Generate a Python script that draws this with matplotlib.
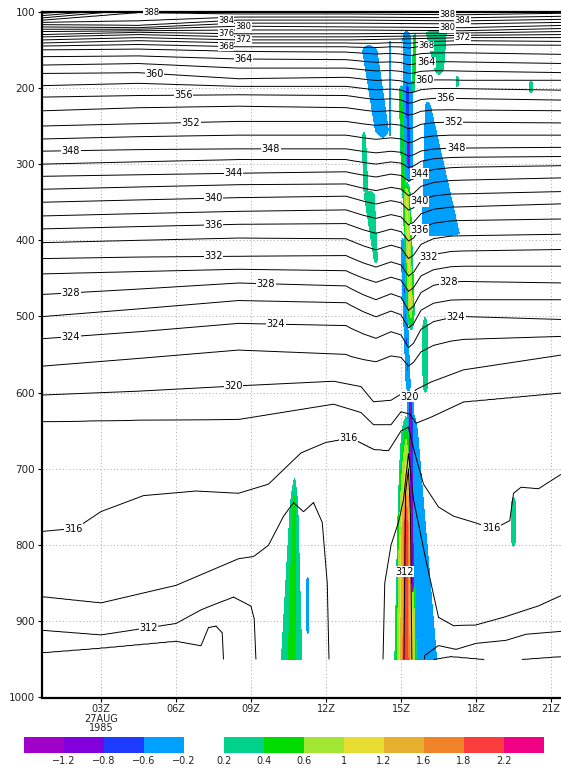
import numpy as np
import matplotlib
matplotlib.use("Agg")
import matplotlib.pyplot as plt
from matplotlib.colors import ListedColormap, BoundaryNorm

# ---------------------------------------------------------------- data
# time axis: hours UTC (27 Aug 1985); pressure axis: hPa
time_range = (0.64, 21.4)
data_bottom = 950

x_ticks = [3, 6, 9, 12, 15, 18, 21]
x_tick_labels = ["03Z\n27AUG\n1985", "06Z", "09Z", "12Z", "15Z", "18Z", "21Z"]
y_ticks = [100, 200, 300, 400, 500, 600, 700, 800, 900, 1000]
y_tick_labels = ["100", "200", "300", "400", "500", "600", "700", "800", "900", "1000"]

# theta-e isolines (K), every 2 K
theta_levels = list(range(308, 398, 2))

# pressure (hPa) of the upper isolines at anchor times
anchor_times = [0.7, 4.5, 8.5, 13.0, 17.5, 21.5]
isoline_p = {
    322: [565, 555, 544, 550, 530, 526],
    324: [529, 520, 509, 512, 500, 504],
    326: [500, 490, 479, 482, 478, 478],
    328: [471, 464, 456, 460, 454, 456],
    330: [444, 441, 438, 440, 434, 434],
    332: [424, 422, 421, 420, 414, 412],
    334: [403, 400, 397, 398, 394, 392],
    336: [385, 382, 379, 378, 374, 372],
    338: [368, 365, 362, 360, 356, 352],
    340: [350, 347, 344, 342, 339, 336],
    342: [333, 330, 327, 326, 321, 318],
    344: [316, 314, 312, 310, 304, 302],
    346: [300, 297, 294, 294, 291, 290],
    348: [283, 281, 280, 280, 279, 278],
    350: [267, 264, 262, 262, 262, 262],
    352: [250, 247, 244, 244, 245, 246],
    354: [230, 226, 224, 226, 229, 230],
    356: [212, 210, 209, 210, 214, 216],
    358: [197, 194, 198, 198, 201, 203],
    360: [181, 180, 188, 186, 190, 190],
    362: [170, 168, 174, 174, 178, 180],
    364: [159, 158, 162, 163, 166, 168],
    366: [150, 149, 152, 153, 154, 156],
    368: [145, 143, 146, 146, 143, 144],
    370: [141, 138, 141, 141, 138, 139],
    372: [137, 134, 137, 137, 134, 134],
    374: [133, 130, 133, 133, 131, 130],
    376: [130, 127, 129, 129, 128, 126],
    378: [126, 125, 124, 124, 125, 122],
    380: [123, 123, 119, 120, 121, 118],
    382: [120, 121, 115, 115, 116, 114],
    384: [117, 118, 111, 111, 112, 110],
    386: [114, 112, 107, 107, 108, 106],
    388: [111, 101, 103, 103, 104, 102],
    390: [108, 97, 99, 99, 100, 98],
    392: [105, 95, 96, 96, 97, 95],
    394: [102, 93, 93, 93, 94, 92],
    396: [99, 91, 90, 90, 91, 89],
}
# downward dip of the isolines around the convective column
dip_times = [12.8, 13.5, 14.0, 14.6, 15.0, 15.3, 15.5, 15.8, 16.3, 17.0]
dip_shape = [0.0, 0.35, 0.55, 0.35, 0.5, 1.0, 0.85, 0.35, 0.1, 0.0]
dip_depth = {322: 25, 324: 35, 326: 35, 328: 35, 330: 30, 332: 30, 334: 28,
             336: 25, 338: 22, 340: 20, 342: 18, 344: 15, 346: 12, 348: 10,
             350: 10, 352: 9, 354: 8, 356: 8, 358: 7, 360: 6, 362: 5,
             364: 5, 366: 4, 368: 3, 370: 2}

# lower isolines: (times, pressures); 1000+ means below the data
low_isolines = {
    320: ([0.7, 4.5, 8.5, 12.3, 13.4, 13.9, 14.6, 15.0, 15.35, 15.6, 16.2, 17.5, 21.5],
          [603, 598, 591, 585, 592, 612, 610, 602, 606, 596, 586, 570, 550]),
    318: ([0.7, 4.5, 8.5, 12.3, 13.4, 13.9, 14.6, 15.0, 15.35, 15.6, 16.2, 17.5, 21.5],
          [638, 636, 635, 615, 626, 642, 642, 625, 628, 640, 632, 612, 600]),
    316: ([0.7, 2.0, 3.0, 4.7, 6.8, 8.5, 9.7, 11.0, 12.0, 13.0, 13.9, 14.5, 15.0,
           15.3, 15.5, 15.9, 16.5, 17.1, 18.0, 18.7, 19.35, 19.5, 19.8, 20.5, 21.5],
          [782, 778, 756, 735, 729, 732, 720, 679, 665, 659, 674, 676, 650,
           645, 673, 720, 750, 762, 771, 779, 768, 732, 724, 726, 705]),
    314: ([0.7, 3.0, 6.0, 8.5, 9.1, 9.7, 10.3, 10.7, 11.1, 11.5, 11.85, 12.05, 12.15,
           14.25, 14.35, 14.6, 14.9, 15.1, 15.3, 15.5, 16.0, 16.5, 17.1, 18.0, 19.1,
           20.5, 21.5],
          [868, 876, 853, 818, 815, 800, 762, 744, 756, 744, 770, 850, 1000,
           1000, 850, 800, 770, 740, 680, 740, 820, 895, 906, 905, 895,
           880, 865]),
    312: ([0.7, 3.0, 6.0, 7.0, 8.3, 9.0, 9.13, 9.27, 15.1, 15.18, 15.3, 15.38, 15.45,
           15.75, 15.95, 16.5, 17.2, 18.0, 19.2, 20.0, 21.5],
          [912, 918, 903, 885, 868, 880, 897, 1010, 1010, 730, 700, 760, 1010,
           1010, 945, 932, 937, 929, 925, 917, 913]),
    310: ([0.7, 3.0, 6.0, 7.0, 7.3, 7.6, 7.85, 8.0, 16.1, 16.3, 17.0, 19.0, 21.5],
          [941, 935, 926, 932, 908, 906, 915, 1020, 1020, 950, 946, 952, 946]),
    308: ([0.7, 21.5], [1030, 1030]),
}

# contour labels (level, time)
label_levels = [388, 388, 384, 384, 380, 380, 376, 372, 372, 368, 368, 364, 364,
                360, 360, 356, 356, 352, 352, 348, 348, 348, 344, 344, 340, 340,
                336, 336, 332, 332, 328, 328, 328, 324, 324, 324, 320, 320,
                316, 316, 316, 312, 312]
label_times = [5.0, 16.85, 8.0, 17.45, 8.7, 16.85, 8.0, 8.7, 17.45, 8.0, 16.0, 8.7, 16.0,
               5.15, 15.95, 6.3, 16.8, 6.6, 17.1, 1.8, 9.8, 17.2, 8.3, 15.75, 7.5, 15.75,
               7.5, 15.75, 7.5, 16.1, 1.8, 9.6, 16.9, 1.8, 10.0, 17.2, 8.3, 15.36,
               1.9, 12.9, 18.6, 4.9, 15.15]

# shaded field: cells of the heating field
# columns: time at top, time at bottom, p top, p bottom, half-width top, half-width bottom,
#          ramp top (hPa), ramp bottom (hPa), peak value
cell_t_top = [15.22, 15.25, 14.98, 15.55, 15.20, 15.05, 15.38, 15.20, 15.50, 13.70, 14.56,
              16.05, 16.40, 17.25, 20.20, 13.50, 13.70, 15.96, 10.75, 11.27, 19.50]
cell_t_bot = [15.25, 15.32, 15.12, 15.50, 15.42, 15.30, 15.45, 15.20, 15.95, 14.30, 14.56,
              16.60, 16.55, 17.25, 20.20, 13.60, 14.02, 15.98, 10.62, 11.27, 19.50]
cell_p_top = [120, 180, 190, 125, 320, 390, 598, 617, 620, 140, 137,
              215, 120, 183, 190, 250, 330, 485, 688, 838, 730]
cell_p_bot = [200, 330, 345, 215, 525, 600, 880, 960, 960, 270, 265,
              396, 190, 200, 208, 340, 435, 610, 960, 920, 810]
cell_w_top = [0.22, 0.24, 0.10, 0.09, 0.18, 0.09, 0.14, 0.25, 0.12, 0.45, 0.05,
              0.10, 0.90, 0.08, 0.10, 0.14, 0.45, 0.20, 0.12, 0.07, 0.15]
cell_w_bot = [0.22, 0.20, 0.11, 0.08, 0.18, 0.11, 0.14, 0.50, 0.75, 0.40, 0.05,
              1.20, 0.25, 0.08, 0.10, 0.18, 0.10, 0.20, 0.70, 0.07, 0.15]
cell_ramp_top = [15, 20, 20, 10, 20, 30, 20, 160, 30, 12, 5, 10, 8, 4, 4, 15, 10, 30, 60, 10, 15]
cell_ramp_bot = [15, 30, 10, 20, 40, 10, 30, 1, 1, 15, 5, 5, 15, 4, 4, 5, 10, 20, 1, 10, 15]
cell_value = [-0.6, -0.92, 0.55, 0.5, 1.05, -0.8, -1.7, 2.15, -0.6, -0.55, -0.5,
              -0.55, 0.38, 0.38, 0.38, 0.36, 0.38, 0.38, 0.5, -0.45, 0.38]

shade_levels = [-1.2, -0.8, -0.6, -0.2, 0.2, 0.4, 0.6, 1, 1.2, 1.6, 1.8, 2.2]
shade_labels = ["\u22121.2", "\u22120.8", "\u22120.6", "\u22120.2", "0.2", "0.4", "0.6",
                "1", "1.2", "1.6", "1.8", "2.2"]
rgb = lambda r, g, b: (r / 255, g / 255, b / 255)
color_under = rgb(160, 0, 200)
shade_colors = [rgb(130, 0, 220), rgb(30, 60, 255), rgb(0, 160, 255), (1, 1, 1, 0),
                rgb(0, 210, 140), rgb(0, 220, 0), rgb(160, 230, 50), rgb(230, 220, 50),
                rgb(230, 175, 45), rgb(240, 130, 40), rgb(250, 60, 60)]
color_over = rgb(240, 0, 130)

# ---------------------------------------------------------------- fields
tg = np.arange(time_range[0], time_range[1] + 1e-9, 0.01)
pg = np.arange(100.0, data_bottom + 0.5, 1.0)


def level_pressure(L, t):
    if L in low_isolines:
        kt, kp = low_isolines[L]
        return np.interp(t, kt, kp)
    base = np.interp(t, anchor_times, isoline_p[L])
    return base + dip_depth.get(L, 0) * np.interp(t, dip_times, dip_shape)


lev = np.array(theta_levels, float)
P = np.array([level_pressure(L, tg) for L in theta_levels])
TH = np.empty((pg.size, tg.size))
for j in range(tg.size):
    order = np.argsort(P[:, j])
    TH[:, j] = np.interp(pg, P[order, j], lev[order])

SH = np.zeros_like(TH)
Tm = tg[None, :]
for i in range(len(cell_value)):
    p0, p1 = cell_p_top[i], cell_p_bot[i]
    rows = (pg >= p0) & (pg <= p1)
    pp = pg[rows][:, None]
    s = (pp - p0) / (p1 - p0)
    tc = cell_t_top[i] + s * (cell_t_bot[i] - cell_t_top[i])
    w = cell_w_top[i] + s * (cell_w_bot[i] - cell_w_top[i])
    ft = np.clip(1 - np.abs(Tm - tc) / w, 0, 1)
    fp = np.clip(np.minimum((pp - p0) / cell_ramp_top[i], (p1 - pp) / cell_ramp_bot[i]), 0, 1)
    c = cell_value[i] * ft * fp
    sub = SH[rows]
    m = np.abs(c) > np.abs(sub)
    sub[m] = c[m]
    SH[rows] = sub

# ---------------------------------------------------------------- plot
W, H = 561, 775
fig = plt.figure(figsize=(W / 100, H / 100), dpi=100)
fig.patch.set_facecolor("white")
ax = fig.add_axes([42 / W, 1 - 697.5 / H, (W - 42) / W, (697.5 - 11.7) / H])

cmap = ListedColormap(shade_colors)
cmap.set_under(color_under)
cmap.set_over(color_over)
norm = BoundaryNorm(shade_levels, cmap.N)
cf = ax.contourf(tg, pg, SH, levels=shade_levels, cmap=cmap, norm=norm,
                 extend="both", antialiased=False, zorder=1)

ax.contour(tg, pg, TH, levels=np.arange(310, 398, 2), colors="black",
           linewidths=0.7, zorder=2)

for L, t in zip(label_levels, label_times):
    p = float(level_pressure(L, t))
    fs = 6 if L >= 368 else 7
    ax.text(t, p, str(L), fontsize=fs, ha="center", va="center", color="black",
            zorder=5, clip_on=False,
            bbox=dict(boxstyle="square,pad=0.05", fc="white", ec="none"))

ax.set_xlim(*time_range)
ax.set_ylim(1000, 100)
ax.set_xticks(x_ticks)
ax.set_xticklabels(x_tick_labels, fontsize=7, color="#222222", linespacing=0.9)
ax.set_yticks(y_ticks)
ax.set_yticklabels(y_tick_labels, fontsize=7.5, color="#222222")
ax.tick_params(direction="out", length=3, width=0.8, pad=2)
ax.grid(True, color="#a8a8a8", linestyle=(0, (1, 2.5)), linewidth=0.7)
ax.set_axisbelow(True)
for side in ("left", "bottom", "top"):
    ax.spines[side].set_linewidth(1.6)
ax.spines["right"].set_visible(False)

cax = fig.add_axes([24 / W, 1 - 753 / H, 520 / W, 16 / H])
cb = fig.colorbar(cf, cax=cax, orientation="horizontal", extend="both",
                  extendrect=True, extendfrac=1 / 11, spacing="uniform")
cb.outline.set_visible(False)
cb.set_ticks(shade_levels)
cb.set_ticklabels(shade_labels)
cax.tick_params(length=0, labelsize=7, labelcolor="#222222", pad=2)

fig.savefig("out.png", dpi=100, facecolor="white")
